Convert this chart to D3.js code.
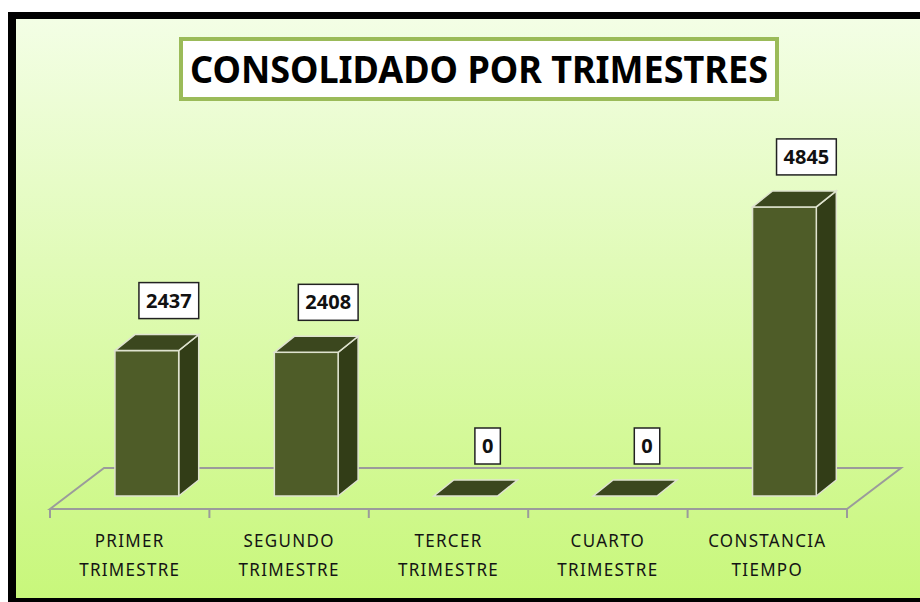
<!DOCTYPE html>
<html>
<head>
<meta charset="utf-8">
<script src="https://cdn.jsdelivr.net/npm/d3@7"></script>
<style>
  body { margin: 0; background: #fff; }
  svg { display: block; }
</style>
</head>
<body>
<div id="chart"></div>
<script>
const categories = ["PRIMER TRIMESTRE", "SEGUNDO TRIMESTRE", "TERCER TRIMESTRE", "CUARTO TRIMESTRE", "CONSTANCIA TIEMPO"];
const labelLines = [["PRIMER", "TRIMESTRE"], ["SEGUNDO", "TRIMESTRE"], ["TERCER", "TRIMESTRE"], ["CUARTO", "TRIMESTRE"], ["CONSTANCIA", "TIEMPO"]];
const values = [2437, 2408, 0, 0, 4845];
const title = "CONSOLIDADO POR TRIMESTRES";

const width = 920, height = 602;

const svg = d3.select("#chart")
    .append("svg")
    .attr("width", width)
    .attr("height", height);

// background gradient
const defs = svg.append("defs");
const grad = defs.append("linearGradient")
    .attr("id", "bg")
    .attr("x1", 0).attr("y1", 0).attr("x2", 0).attr("y2", 1);
grad.append("stop").attr("offset", "0%").attr("stop-color", "#f3fee5");
grad.append("stop").attr("offset", "100%").attr("stop-color", "#c8f77b");

// black frame + chart area
svg.append("rect").attr("x", 8).attr("y", 12).attr("width", 930).attr("height", 600).attr("fill", "#000");
svg.append("rect").attr("x", 16).attr("y", 19).attr("width", 920).attr("height", 579).attr("fill", "url(#bg)");

// floor geometry
const floorFront = 509, floorDX = 54, floorDY = 41;
const x = d3.scaleBand()
    .domain(categories)
    .range([50, 847])
    .paddingInner(0.6)
    .paddingOuter(0.3);

const barBase = 496;
const y = d3.scaleLinear()
    .domain([0, 6000])
    .range([barBase, barBase - 358]);

const shiftX = (floorFront - barBase) / floorDY * floorDX;
const depthX = 20, depthY = 16;

// floor
const floorColor = "#9b9b9b";
const fl = svg.append("g").attr("fill", "none").attr("stroke", floorColor).attr("stroke-width", 2);
const [r0, r1] = x.range();
fl.append("path").attr("d", `M${r0},${floorFront}L${r0 + floorDX},${floorFront - floorDY}L${r1 + floorDX},${floorFront - floorDY}L${r1},${floorFront}Z`);

// ticks at band boundaries
const step = x.step();
const tickXs = d3.range(categories.length + 1).map(i => r0 + i * step);
fl.selectAll("line.tick")
    .data(tickXs)
    .join("line")
    .attr("class", "tick")
    .attr("x1", d => d).attr("x2", d => d)
    .attr("y1", floorFront).attr("y2", floorFront + 9);

// bars
const data = categories.map((c, i) => ({ cat: c, value: values[i], lines: labelLines[i] }));
const edge = "#dfe3cf";

const bars = svg.append("g").selectAll("g.bar")
    .data(data)
    .join("g")
    .attr("class", "bar");

bars.each(function(d) {
    const g = d3.select(this);
    const x0 = x(d.cat) + shiftX;
    const x1 = x0 + x.bandwidth();
    const yt = y(d.value);
    const yb = y(0);
    if (d.value > 0) {
        // side
        g.append("path")
            .attr("d", `M${x1},${yb}L${x1 + depthX},${yb - depthY}L${x1 + depthX},${yt - depthY}L${x1},${yt}Z`)
            .attr("fill", "#323d17").attr("stroke", edge).attr("stroke-width", 1.5);
        // front
        g.append("rect")
            .attr("x", x0).attr("y", yt)
            .attr("width", x1 - x0).attr("height", yb - yt)
            .attr("fill", "#4e5c28").attr("stroke", edge).attr("stroke-width", 1.5);
    }
    // top
    g.append("path")
        .attr("d", `M${x0},${yt}L${x0 + depthX},${yt - depthY}L${x1 + depthX},${yt - depthY}L${x1},${yt}Z`)
        .attr("fill", "#3b471e").attr("stroke", edge).attr("stroke-width", 1.5);
});

// value labels
bars.each(function(d) {
    const g = d3.select(this);
    const cx = x(d.cat) + shiftX + x.bandwidth() / 2 + 22;
    const boxBottom = y(d.value) - 32;
    const boxH = 36;
    const rect = g.append("rect");
    const t = g.append("text")
        .attr("x", cx)
        .attr("y", boxBottom - boxH / 2 + 7)
        .attr("text-anchor", "middle")
        .attr("font-family", "Noto Sans")
        .attr("font-weight", 700)
        .attr("font-size", 20)
        .attr("fill", "#111")
        .text(d.value);
    const w = t.node().getComputedTextLength() + 14;
    rect.attr("x", cx - w / 2).attr("y", boxBottom - boxH)
        .attr("width", w).attr("height", boxH)
        .attr("fill", "#fff").attr("stroke", "#222").attr("stroke-width", 1.5);
});

// category labels
const catG = svg.append("g");
data.forEach(d => {
    const cx = x(d.cat) + x.bandwidth() / 2;
    d.lines.forEach((line, j) => {
        const by = 547 + j * 29;
        catG.append("text")
            .attr("transform", `translate(${cx},${by}) scale(1,1.1)`)
            .attr("text-anchor", "middle")
            .attr("font-family", "Noto Sans")
            .attr("font-size", 17)
            .attr("letter-spacing", 1.3)
            .attr("fill", "#141414")
            .text(line);
    });
});

// title box
svg.append("rect")
    .attr("x", 181).attr("y", 39)
    .attr("width", 596).attr("height", 60)
    .attr("fill", "#fff")
    .attr("stroke", "#9bbb59")
    .attr("stroke-width", 4);

svg.append("text")
    .attr("x", 190)
    .attr("y", 83)
    .attr("font-family", "Noto Sans")
    .attr("font-weight", 700)
    .attr("font-size", 38)
    .attr("textLength", 578)
    .attr("lengthAdjust", "spacingAndGlyphs")
    .attr("fill", "#000")
    .text(title);
</script>
</body>
</html>
